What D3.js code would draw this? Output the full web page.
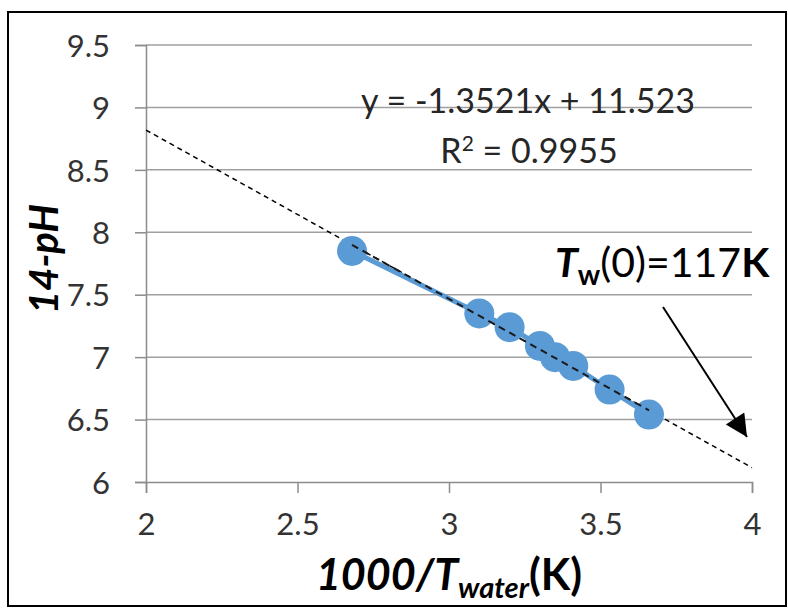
<!DOCTYPE html>
<html><head><meta charset="utf-8">
<script src="https://cdn.jsdelivr.net/npm/d3@7"></script>
<style>
html,body{margin:0;padding:0;background:#fff;}
svg{display:block;}
text{font-family:Lato,"Open Sans",sans-serif;}
</style></head>
<body>
<svg id="chart" width="788" height="609"></svg>
<script>
const xValues = [2.68, 3.10, 3.20, 3.30, 3.35, 3.41, 3.53, 3.66];
const yValues = [7.85, 7.35, 7.24, 7.09, 7.00, 6.93, 6.74, 6.54];
const xTicks = [2, 2.5, 3, 3.5, 4];
const yTicks = [6, 6.5, 7, 7.5, 8, 8.5, 9, 9.5];
const trendSlope = -1.3521;
const trendIntercept = 11.523;
const equationLabel = "y = -1.3521x + 11.523";
const r2Label = "0.9955";
const annotationValue = "(0)=117";

const svg = d3.select("#chart");
const x = d3.scaleLinear().domain([2, 4]).range([146, 752]);
const y = d3.scaleLinear().domain([6, 9.5]).range([482, 45]);

// outer frame
svg.append("rect").attr("x", 8).attr("y", 12).attr("width", 778).attr("height", 594)
  .attr("fill", "none").attr("stroke", "#000").attr("stroke-width", 2);

// gridlines
svg.append("g").selectAll("line").data(yTicks.filter(d => d !== 6)).join("line")
  .attr("x1", x(2)).attr("x2", x(4)).attr("y1", d => y(d)).attr("y2", d => y(d))
  .attr("stroke", "#a0a0a0").attr("stroke-width", 1.5);

// y axis
const yAxis = svg.append("g").attr("transform", `translate(${x(2)},0)`)
  .call(d3.axisLeft(y).tickValues(yTicks).tickFormat(d3.format("")).tickSize(11).tickPadding(25));
yAxis.select(".domain").attr("stroke", "#8c8c8c").attr("stroke-width", 1.5);
yAxis.selectAll(".tick line").attr("stroke", "#8c8c8c").attr("stroke-width", 1.5);
yAxis.selectAll(".tick text").attr("font-size", 31).attr("fill", "#333").attr("dy", "0.36em")
  .style("font-family", "Lato, sans-serif");

// x axis
const xAxis = svg.append("g").attr("transform", `translate(0,${y(6)})`)
  .call(d3.axisBottom(x).tickValues(xTicks).tickFormat(d3.format("")).tickSize(11).tickPadding(20));
xAxis.select(".domain").attr("stroke", "#8c8c8c").attr("stroke-width", 1.5);
xAxis.selectAll(".tick line").attr("stroke", "#8c8c8c").attr("stroke-width", 1.5);
xAxis.selectAll(".tick text").attr("font-size", 31).attr("fill", "#333").attr("dy", "0.71em")
  .style("font-family", "Lato, sans-serif");

// trendline (dashed)
svg.append("line")
  .attr("x1", x(2)).attr("y1", y(trendSlope * 2 + trendIntercept))
  .attr("x2", x(4)).attr("y2", y(trendSlope * 4 + trendIntercept))
  .attr("stroke", "#000").attr("stroke-width", 1.5).attr("stroke-dasharray", "5,4");

// series line
const pts = xValues.map((v, i) => [v, yValues[i]]);
svg.append("path").datum(pts)
  .attr("d", d3.line().x(d => x(d[0])).y(d => y(d[1])))
  .attr("fill", "none").attr("stroke", "#5b9bd5").attr("stroke-width", 5);

svg.append("g").selectAll("circle").data(pts).join("circle")
  .attr("cx", d => x(d[0])).attr("cy", d => y(d[1])).attr("r", 15)
  .attr("fill", "#5b9bd5");

// trendline drawn again above markers
svg.append("line")
  .attr("x1", x(xValues[0])).attr("y1", y(trendSlope * xValues[0] + trendIntercept))
  .attr("x2", x(xValues[xValues.length-1])).attr("y2", y(trendSlope * xValues[xValues.length-1] + trendIntercept))
  .attr("stroke", "#1a1a1a").attr("stroke-width", 2).attr("stroke-dasharray", "7,5");

// equation labels
svg.append("text").attr("x", 528).attr("y", 113).attr("text-anchor", "middle")
  .attr("font-size", 34).attr("fill", "#262626").text(equationLabel);
const r2 = svg.append("text").attr("x", 529).attr("y", 163).attr("text-anchor", "middle")
  .attr("font-size", 34).attr("fill", "#262626");
r2.append("tspan").text("R");
r2.append("tspan").attr("font-size", 21).attr("dy", -12).text("2");
r2.append("tspan").attr("dy", 12).text(" = " + r2Label);

// annotation
const ann = svg.append("text").attr("x", 555).attr("y", 277).attr("font-size", 41).attr("fill", "#000");
ann.append("tspan").attr("font-weight", "bold").attr("font-style", "italic").text("T");
ann.append("tspan").attr("font-weight", "bold").attr("font-size", 28).attr("dy", 8).text("w");
ann.append("tspan").attr("dy", -8).text(annotationValue);
ann.append("tspan").attr("font-weight", "bold").text("K");

// arrow
svg.append("defs").append("marker").attr("id", "arr")
  .attr("viewBox", "0 0 10 10").attr("refX", 10).attr("refY", 5)
  .attr("markerWidth", 24).attr("markerHeight", 22).attr("markerUnits", "userSpaceOnUse")
  .attr("orient", "auto")
  .append("path").attr("d", "M0,0 L10,5 L0,10 Z").attr("fill", "#000");
svg.append("line").attr("x1", 663).attr("y1", 307).attr("x2", 747).attr("y2", 437)
  .attr("stroke", "#000").attr("stroke-width", 2).attr("marker-end", "url(#arr)");

// axis titles
const xt = svg.append("text").attr("x", 449).attr("y", 590).attr("text-anchor", "middle")
  .attr("font-size", 43).attr("font-weight", "bold").attr("fill", "#000");
xt.append("tspan").attr("font-style", "italic").text("1000/T");
xt.append("tspan").attr("font-style", "italic").attr("font-size", 29).attr("dy", 8).text("water");
xt.append("tspan").attr("dy", -8).text("(K)");

svg.append("text").attr("transform", "translate(58,259) rotate(-90)").attr("text-anchor", "middle")
  .attr("font-size", 40).attr("font-weight", "bold").attr("font-style", "italic").attr("fill", "#000")
  .text("14-pH");
</script>
</body></html>
